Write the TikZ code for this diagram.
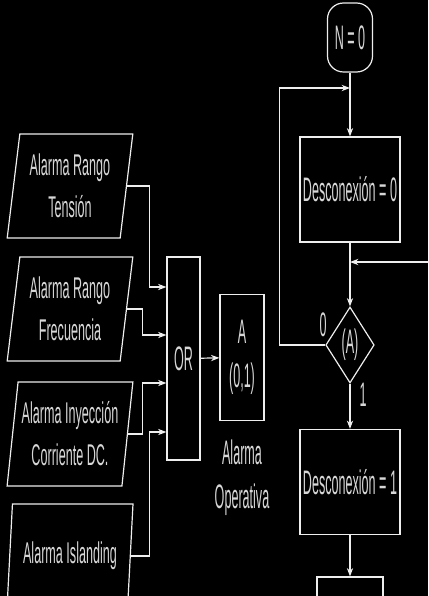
\documentclass[tikz,border=0pt]{standalone}
\usepackage{fontspec}
\setmainfont{Liberation Sans}
\newfontfamily\flowfont[FakeStretch=0.42]{Liberation Sans}
\newfontfamily\tallfont[FakeStretch=0.37]{Liberation Sans}
\usepackage{tikz}
\usetikzlibrary{positioning, arrows.meta, shapes.geometric, calc}
\definecolor{lnwhite}{RGB}{238, 238, 238}
\definecolor{txgrey}{RGB}{215, 215, 215}
\tikzset{
  alarm/.style={
    draw=lnwhite, line width=1.2pt,
    trapezium, trapezium left angle=81, trapezium right angle=99,
    trapezium stretches=true,
    minimum width=126pt, minimum height=104pt,
    align=center, text=txgrey, inner sep=0pt,
    font=\flowfont\fontsize{30}{42}\selectfont,
  },
  flowbox/.style={
    draw=lnwhite, line width=1.2pt, rectangle,
    align=center, text=txgrey, inner sep=0pt,
    font=\tallfont\fontsize{34}{44}\selectfont,
  },
  link/.style={draw=lnwhite, line width=1.2pt},
  lbl/.style={text=txgrey, inner sep=0pt, align=center,
    font=\tallfont\fontsize{34}{44}\selectfont},
}

\begin{document}
\begin{tikzpicture}[x=1pt, y=-1pt, >=Stealth,
  gate/.style={flowbox, minimum width=33pt, minimum height=203pt},
  action/.style={flowbox, minimum width=100pt, minimum height=105pt},
  term/.style={flowbox, rounded corners=16pt, minimum width=45pt, minimum height=69pt},
  decision/.style={flowbox, diamond, minimum width=40pt, minimum height=76pt}]

\useasboundingbox (0,0) rectangle (428,596);
\fill[black] (0,0) rectangle (428,596);

\node[alarm] (tension) at (70,186) {Alarma Rango\\Tensión};
\node[alarm] (freq) at (70,309) {Alarma Rango\\Frecuencia};
\node[alarm] (dc) at (70,434) {Alarma Inyección\\Corriente DC.};
\node[alarm] (island) at (70,556) {Alarma Islanding};

\node[gate] (or) at (183.5,358.5) {OR};
\node[flowbox, minimum width=44pt, minimum height=126pt] (flag) at (242,357.5) {A\\(0,1)};
\node[lbl] (flaglbl) at (242,478) {Alarma\\Operativa};

\coordinate (or1) at (or.west |- 0,287);
\coordinate (or2) at (or.west |- 0,335);
\coordinate (or3) at (or.west |- 0,383);
\coordinate (or4) at (or.west |- 0,432);

\node[term] (start) at (350,37.5) {N = 0};
\node[action] (off0) at (350,189.5) {Desconexión = 0};
\node[decision] (chk) at (350,345) {(A)};
\node[action] (off1) at (350,482) {Desconexión = 1};
\node[flowbox, minimum width=66pt, minimum height=80pt] (next) at (350,617) {};
\node[lbl] (lbl0) at (323,325) {0};
\node[lbl] (lbl1) at (363,395) {1};

\coordinate (loopin) at (350,88);
\coordinate (rightin) at (350,262);
\coordinate (rightend) at (432,262);

\draw[link, ->] (tension.east) -| ([xshift=-17pt]or1) -- (or1);
\draw[link, ->] (freq.east) -| ([xshift=-24pt]or2) -- (or2);
\draw[link, ->] (dc.east) -| ([xshift=-24pt]or3) -- (or3);
\draw[link, ->] (island.east) -| ([xshift=-17pt]or4) -- (or4);
\draw[link, ->] (or) -- (flag);

\draw[link] (start) -- (loopin);
\draw[link, ->] (loopin) -- (off0);
\draw[link, ->] (chk.west) -- ++(-46,0) |- (loopin);
\draw[link] (off0) -- (rightin);
\draw[link, ->] (rightend) -- (rightin);
\draw[link, ->] (rightin) -- (chk);
\draw[link, ->] (chk) -- (off1);
\draw[link, ->] (off1) -- (next);

\end{tikzpicture}
\end{document}
